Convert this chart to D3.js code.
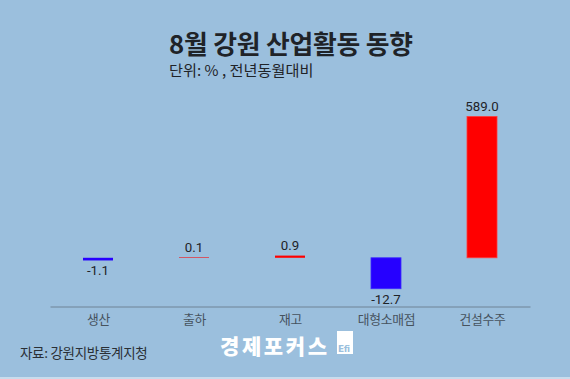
<!DOCTYPE html>
<html><head><meta charset="utf-8">
<script src="https://cdn.jsdelivr.net/npm/d3@7"></script>
<style>
html,body{margin:0;padding:0;background:#9bbfdd;}
svg{display:block;}
</style></head>
<body>
<svg id="c" width="570" height="379"></svg>
<script>
const categories = ["생산", "출하", "재고", "대형소매점", "건설수주"];
const values = [-1.1, 0.1, 0.9, -12.7, 589.0];
const valueLabels = ["-1.1", "0.1", "0.9", "-12.7", "589.0"];
const titleText = "8월 강원 산업활동 동향";
const subtitleText = "단위: % , 전년동월대비";
const sourceText = "자료: 강원지방통계지청";
const logoText = "경제포커스";

const W = 570, H = 379;
const svg = d3.select("#c");
const KR = "'Noto Sans CJK KR', 'Noto Sans', sans-serif";

svg.append("rect").attr("width", W).attr("height", H).attr("fill", "#9bbfdd");
svg.append("rect").attr("x", 0).attr("y", H - 2).attr("width", W).attr("height", 2).attr("fill", "#c9dcec");

// scales (value axis is clamped: the large bar is truncated as in the original)
const x = d3.scalePoint().domain(categories).range([50, 530]).padding(0.5);
const y = d3.scaleLinear().domain([-20, 58]).range([306.5, 116.5]).clamp(true);
const barW = 30;

// title
svg.append("text").attr("x", 169).attr("y", 53.5)
  .attr("font-family", KR).attr("font-weight", 700).attr("font-size", 25.8)
  .attr("letter-spacing", -0.2).attr("fill", "#1f2328").text(titleText);
svg.append("text").attr("x", 169).attr("y", 76)
  .attr("font-family", KR).attr("font-weight", 400).attr("font-size", 15.2)
  .attr("fill", "#1f2328").text(subtitleText);

// axis
const axis = svg.append("g").attr("transform", `translate(0,${y(-20)})`)
  .call(d3.axisBottom(x).tickSize(0).tickPadding(8));
axis.select(".domain").attr("stroke", "#6e8396").attr("stroke-width", 1);
axis.selectAll("text").attr("font-family", KR).attr("font-size", 12.8)
  .attr("fill", "#46525d").attr("letter-spacing", -0.3);

// bars
const data = categories.map((c, i) => ({c, v: values[i], l: valueLabels[i]}));
svg.append("g").selectAll("rect").data(data).join("rect")
  .attr("x", d => x(d.c) - barW / 2)
  .attr("width", barW)
  .attr("y", d => Math.abs(y(d.v) - y(0)) < 1 ? Math.round(y(0)) - 1 : Math.min(y(0), y(d.v)))
  .attr("height", d => Math.max(1, Math.abs(y(d.v) - y(0))))
  .attr("fill", d => d.v < 0 ? "#2600ff" : "#ff0000")
  .attr("stroke", d => d.v < 0 ? "#3b2cff" : "#ff3b3b")
  .attr("stroke-width", d => Math.abs(y(d.v) - y(0)) > 5 ? 0.8 : 0)
  .attr("opacity", d => Math.abs(y(d.v) - y(0)) < 1 ? 0.55 : 1);

// value labels
svg.append("g").selectAll("text").data(data).join("text")
  .attr("x", d => x(d.c))
  .attr("y", d => d.v < 0 ? y(d.v) + 15 : y(d.v) - 5.5)
  .attr("text-anchor", "middle")
  .attr("font-family", "Roboto, 'DejaVu Sans', sans-serif")
  .attr("font-size", 13.3).attr("fill", "#1f2328")
  .text(d => d.l);

// source
svg.append("text").attr("x", 20).attr("y", 358)
  .attr("font-family", KR).attr("font-size", 13.5).attr("letter-spacing", -0.3)
  .attr("fill", "#2a2f35").text(sourceText);

// logo
svg.append("text").attr("x", 220).attr("y", 354)
  .attr("font-family", KR).attr("font-weight", 900).attr("font-size", 21)
  .attr("letter-spacing", 2.6).attr("fill", "#ffffff").text(logoText);
svg.append("rect").attr("x", 337).attr("y", 331).attr("width", 16).attr("height", 23).attr("fill", "#ffffff");
svg.append("text").attr("x", 338).attr("y", 352)
  .attr("font-family", "'DejaVu Sans', sans-serif").attr("font-weight", 700).attr("font-size", 9)
  .attr("letter-spacing", -0.5).attr("fill", "#9bbfdd").text("Efi");
</script>
</body></html>
